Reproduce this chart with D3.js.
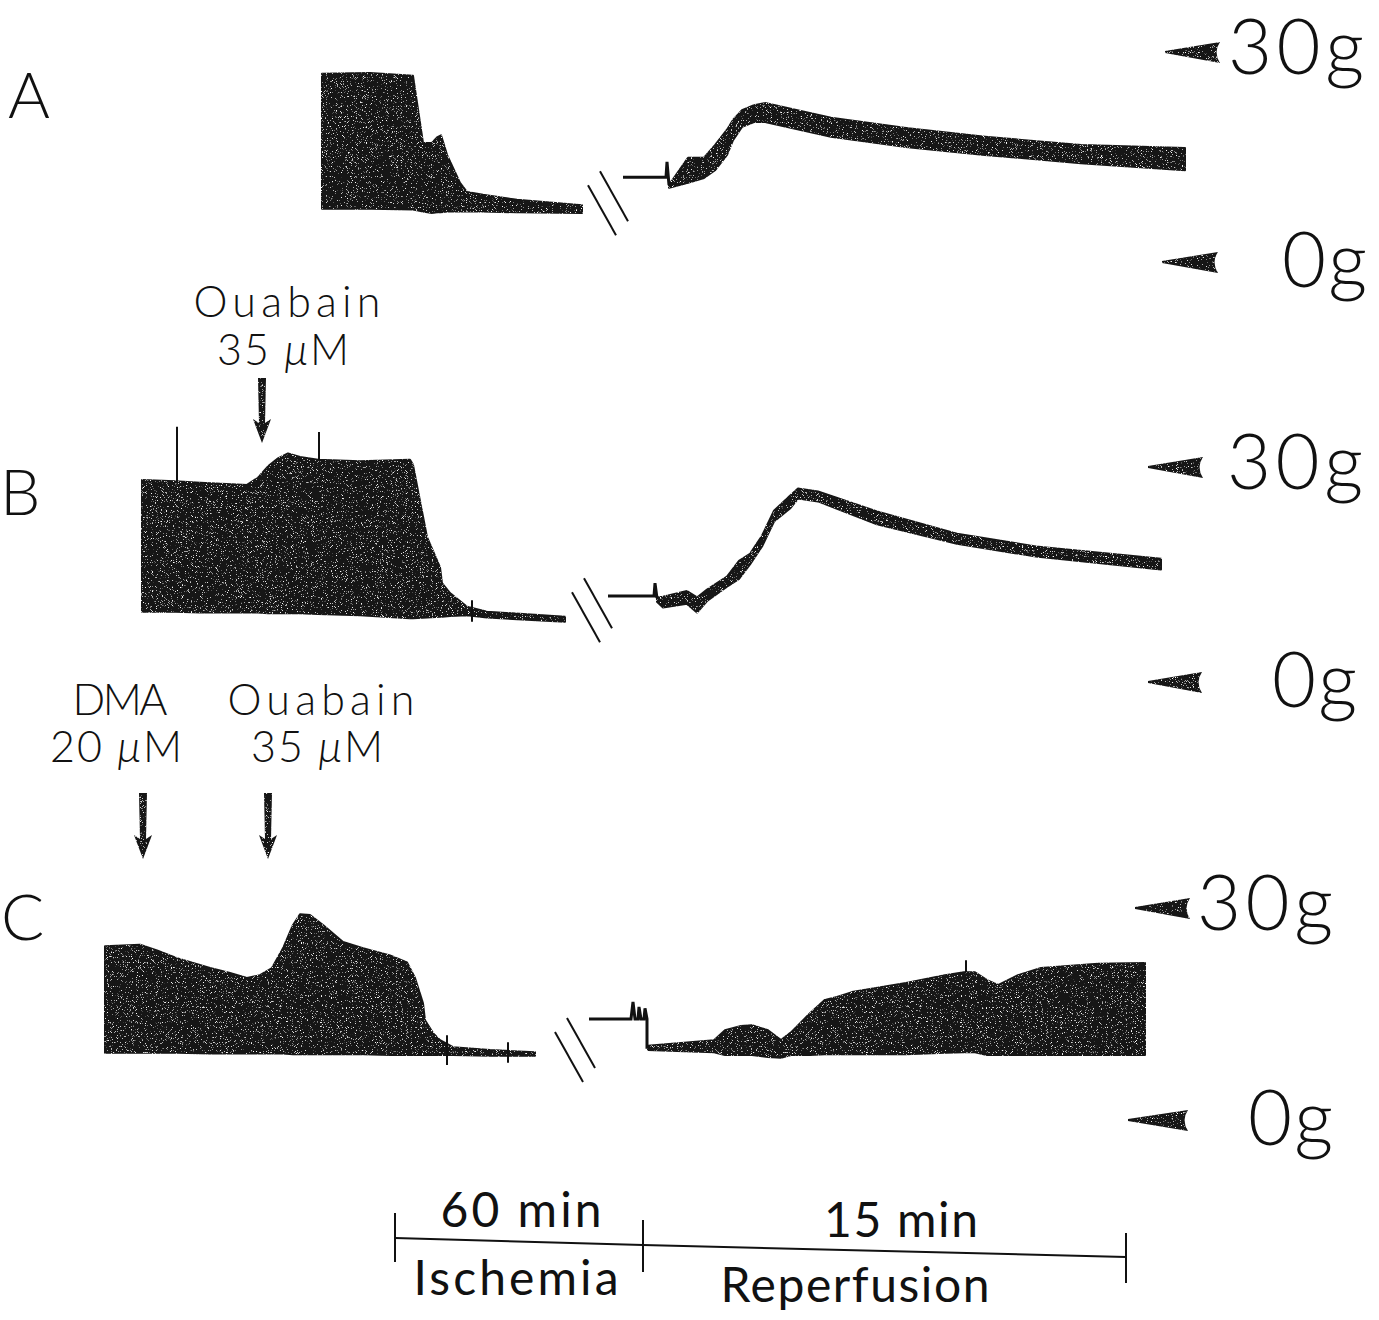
<!DOCTYPE html>
<html>
<head>
    <script src="https://cdnjs.cloudflare.com/ajax/libs/d3/7.8.5/d3.min.js"></script>
    <style>
        body { margin: 0; background: #fff; }
        .thin { font-family: Lato, "DejaVu Sans", sans-serif; font-weight: 300; fill: #111; }
        .bar text { font-family: Lato, "Liberation Sans", Arial, sans-serif; font-weight: 400; fill: #111; }
        .lead, .spike, .brk, .bar line, .bar path { fill: none; stroke: #111; }
    </style>
</head>
<body>
    <div id="chart"></div>
    <script>
        const width = 1379, height = 1320;

        // tension traces: [position, upper envelope g, lower envelope g]
        const aIschemia = [
            [322, 26.9, 7.6], [370, 27.0, 7.6], [413, 26.6, 7.5], [423, 17.0, 7.2],
            [432, 17.0, 7.0], [437, 17.8, 7.1], [441, 18.1, 7.1], [447, 15.3, 7.2], [460, 11.3, 7.2],
            [467, 10.0, 7.2], [483, 9.6, 7.2], [517, 8.9, 7.1], [582, 8.1, 7.0]
        ];
        const aLead = [[623, 12.1], [666, 12.1], [667, 14.3], [669, 11.0]];
        const aReperfusion = [
            [669, 11.0, 10.6], [688, 14.9, 11.3], [704, 14.9, 12.0], [715, 16.7, 13.1],
            [727, 18.9, 15.3], [733, 20.3, 17.4], [742, 21.7, 19.3], [754, 22.4, 20.0],
            [765, 22.7, 20.0], [831, 20.6, 17.9], [908, 19.1, 16.4], [985, 17.9, 15.3],
            [1081, 16.7, 14.1], [1185, 16.3, 13.1]
        ];
        const aSpikes = [];

        const bIschemia = [
            [142, 28.2, 9.8], [175, 28.0, 9.8], [200, 27.8, 9.7], [247, 27.5, 9.7],
            [258, 28.5, 9.7], [268, 30.1, 9.6], [278, 31.2, 9.6], [288, 31.9, 9.6],
            [300, 31.4, 9.6], [318, 31.0, 9.5], [360, 30.8, 9.3], [410, 31.0, 8.9],
            [413, 30.3, 8.9], [427, 20.2, 9.0], [440, 16.0, 9.1], [442, 13.8, 9.1],
            [450, 12.4, 9.2], [467, 10.5, 9.3], [487, 9.8, 9.0], [565, 9.1, 8.4]
        ];
        const bLead = [[608, 12.0], [654, 12.0], [655, 13.8], [657, 11.7]];
        const bReperfusion = [
            [657, 11.8, 11.2], [663, 11.9, 10.4], [687, 12.7, 10.9], [697, 11.8, 9.7],
            [707, 12.9, 11.3], [727, 14.7, 13.3], [739, 16.9, 14.4], [750, 17.9, 16.4],
            [762, 20.4, 18.9], [774, 23.9, 22.4], [790, 26.0, 24.2], [798, 27.0, 25.6],
            [818, 26.6, 25.2], [877, 23.8, 22.0], [957, 20.7, 19.3], [1036, 18.9, 17.5],
            [1161, 17.2, 15.7]
        ];
        const bSpikes = [[177, 28.0, 35.6], [319, 31.0, 34.9], [472, 8.4, 11.4]];

        const cIschemia = [
            [105, 24.6, 9.5], [140, 24.8, 9.5], [157, 24.0, 9.5], [177, 22.9, 9.5],
            [210, 21.5, 9.4], [230, 20.8, 9.4], [247, 20.1, 9.4], [260, 20.5, 9.4],
            [272, 21.5, 9.4], [283, 24.3, 9.4], [293, 27.6, 9.3], [300, 29.1, 9.3],
            [310, 29.0, 9.3], [323, 27.6, 9.3], [343, 25.2, 9.3], [363, 24.3, 9.3],
            [390, 23.3, 9.2], [407, 22.3, 9.2], [415, 20.1, 9.2], [423, 16.5, 9.2],
            [425, 14.1, 9.2], [433, 12.3, 9.2], [440, 11.3, 9.2], [453, 10.3, 9.2],
            [490, 9.9, 9.1], [535, 9.6, 9.1]
        ];
        const cLead = [
            [589, 14.3], [631, 14.3], [633, 16.7], [635, 14.3], [638, 14.3], [639, 16.0],
            [641, 14.3], [644, 14.3], [645, 15.8], [647, 14.3], [647, 10.3], [650, 10.3]
        ];
        const cReperfusion = [
            [648, 10.5, 9.9], [714, 11.3, 9.6], [725, 12.7, 9.2], [741, 13.3, 9.2],
            [752, 13.4, 9.2], [768, 12.7, 8.9], [781, 11.3, 8.8], [791, 12.4, 9.2],
            [810, 15.1, 9.2], [825, 17.0, 9.3], [837, 17.4, 9.3], [852, 18.1, 9.3],
            [906, 19.4, 9.3], [945, 20.5, 9.5], [964, 20.9, 9.6], [975, 20.9, 9.6],
            [987, 19.8, 9.2], [998, 19.1, 9.2], [1018, 20.5, 9.2], [1041, 21.5, 9.2],
            [1098, 22.1, 9.2], [1145, 22.2, 9.2]
        ];
        const cSpikes = [[447, 7.8, 12.0], [508, 8.1, 11.0], [966, 20.9, 22.6]];

        const calibration = [30, 0];
        const additions = [
            { panel: "B", name: "Ouabain", conc: "35", t: 262, textX: 287, nameLen: 187 },
            { panel: "C", name: "DMA", conc: "20", t: 143, textX: 120, nameLen: 95 },
            { panel: "C", name: "Ouabain", conc: "35", t: 268, textX: 321, nameLen: 187 }
        ];
        const timeBar = [
            { amount: "60 min", phase: "Ischemia" },
            { amount: "15 min", phase: "Reperfusion" }
        ];

        const panels = [
            { id: "A", zeroY: 262, fullY: 52, labelX: 8, labelY: 118,
              pre: aIschemia, lead: aLead, post: aReperfusion, spikes: aSpikes, brk: [608, 8.4],
              marks: { 30: [1165, 1220, 1228], 0: [1162, 1218, 1282] }, textY: [], arrowY: [] },
            { id: "B", zeroY: 682, fullY: 467, labelX: 0, labelY: 515,
              pre: bIschemia, lead: bLead, post: bReperfusion, spikes: bSpikes, brk: [592, 10.0],
              marks: { 30: [1148, 1203, 1227], 0: [1148, 1202, 1272] }, textY: [317, 365], arrowY: [378, 443] },
            { id: "C", zeroY: 1120, fullY: 908, labelX: 1, labelY: 940,
              pre: cIschemia, lead: cLead, post: cReperfusion, spikes: cSpikes, brk: [575, 9.9],
              marks: { 30: [1135, 1190, 1197], 0: [1128, 1188, 1248] }, textY: [715, 762], arrowY: [793, 859] }
        ];

        const svg = d3.select("#chart").append("svg")
            .attr("width", width).attr("height", height)
            .style("background", "#fff");

        // grainy chart-recorder ink
        const defs = svg.append("defs");
        const f = defs.append("filter").attr("id", "grain");
        f.append("feTurbulence").attr("type", "fractalNoise").attr("baseFrequency", 1.2)
            .attr("numOctaves", 2).attr("seed", 7).attr("result", "noise");
        f.append("feColorMatrix").attr("in", "noise").attr("type", "matrix")
            .attr("values", "0 0 0 0 1  0 0 0 0 1  0 0 0 0 1  6 0 0 0 -3.8").attr("result", "specks");
        f.append("feComposite").attr("in", "specks").attr("in2", "SourceGraphic")
            .attr("operator", "in").attr("result", "sp");
        const fm = f.append("feMerge");
        fm.append("feMergeNode").attr("in", "SourceGraphic");
        fm.append("feMergeNode").attr("in", "sp");

        const x = d3.scaleLinear().domain([0, width]).range([0, width]);
        const ink = "#161616";

        panels.forEach(p => {
            const y = d3.scaleLinear().domain([0, 30]).range([p.zeroY, p.fullY]);
            const g = svg.append("g").attr("class", "panel-" + p.id);

            const area = d3.area()
                .x(d => x(d[0]))
                .y0(d => y(d[2]))
                .y1(d => y(d[1]));

            [p.pre, p.post].forEach(seg => {
                g.append("path")
                    .attr("d", area(seg))
                    .attr("fill", ink)
                    .attr("stroke", ink)
                    .attr("stroke-width", 2)
                    .attr("stroke-linejoin", "round")
                    .attr("filter", "url(#grain)");
            });

            g.append("path")
                .attr("class", "lead")
                .attr("d", d3.line().x(d => x(d[0])).y(d => y(d[1]))(p.lead))
                .attr("stroke-width", 3);

            g.selectAll(".spike").data(p.spikes).enter().append("line")
                .attr("class", "spike")
                .attr("x1", d => x(d[0])).attr("x2", d => x(d[0]))
                .attr("y1", d => y(d[1])).attr("y2", d => y(d[2]))
                .attr("stroke-width", 2);

            // "//" break in the time axis
            const bx = x(p.brk[0]), by = y(p.brk[1]);
            [[-6, 7], [6, -7]].forEach(o => {
                g.append("line").attr("class", "brk")
                    .attr("x1", bx + o[0] - 14).attr("y1", by + o[1] - 25)
                    .attr("x2", bx + o[0] + 14).attr("y2", by + o[1] + 25)
                    .attr("stroke-width", 2);
            });

            // calibration pointers
            calibration.forEach(v => {
                const m = p.marks[v], cy = y(v);
                g.append("path")
                    .attr("d", `M${m[0]},${cy - 1} L${m[1]},${cy - 10} Q${m[1] - 7},${cy} ${m[1]},${cy + 11} L${m[0]},${cy + 1} Z`)
                    .attr("fill", ink)
                    .attr("filter", "url(#grain)");
                g.append("text").attr("class", "thin")
                    .attr("x", m[2]).attr("y", cy + (v === 30 ? 22 : 25))
                    .attr("font-size", 76)
                    .attr("textLength", v === 30 ? 136 : 85)
                    .attr("lengthAdjust", "spacing")
                    .text(v + "g");
            });

            g.append("text").attr("class", "thin")
                .attr("x", p.labelX).attr("y", p.labelY)
                .attr("font-size", 64)
                .text(p.id);
        });

        // drug additions
        additions.forEach(a => {
            const p = panels.find(d => d.id === a.panel);
            const g = svg.append("g");
            g.append("text").attr("class", "thin")
                .attr("x", a.textX).attr("y", p.textY[0])
                .attr("text-anchor", "middle")
                .attr("font-size", 43)
                .attr("textLength", a.nameLen).attr("lengthAdjust", "spacing")
                .text(a.name);
            const t = g.append("text").attr("class", "thin")
                .attr("x", a.textX - 3).attr("y", p.textY[1])
                .attr("text-anchor", "middle")
                .attr("font-size", 43)
                .attr("letter-spacing", 2);
            t.append("tspan").text(a.conc + " ");
            t.append("tspan").attr("font-style", "italic").text("\u03bc");
            t.append("tspan").text("M");

            const ax = x(a.t), top = p.arrowY[0], tip = p.arrowY[1];
            g.append("path")
                .attr("d", `M${ax - 4},${top} L${ax + 4},${top} L${ax + 3},${tip - 20} L${ax + 9},${tip - 24} L${ax},${tip} L${ax - 9},${tip - 24} L${ax - 3},${tip - 20} Z`)
                .attr("fill", ink)
                .attr("filter", "url(#grain)");
        });

        // time bar
        const bar = svg.append("g").attr("class", "bar");
        const barPts = [[395, 1238], [643, 1245], [1126, 1257]];
        const tickSpan = [[1213, 1262], [1220, 1272], [1233, 1283]];
        bar.append("path").attr("d", d3.line()(barPts)).attr("stroke-width", 2);
        barPts.forEach((pt, i) => {
            bar.append("line").attr("x1", pt[0]).attr("x2", pt[0])
                .attr("y1", tickSpan[i][0]).attr("y2", tickSpan[i][1]).attr("stroke-width", 2);
        });
        const barText = [
            { cx: 521, amountY: 1227, phaseX: 516, phaseY: 1295, amountLen: 161, phaseLen: 205 },
            { cx: 901, amountY: 1237, phaseX: 855, phaseY: 1302, amountLen: 154, phaseLen: 269 }
        ];
        timeBar.forEach((d, i) => {
            const b = barText[i];
            bar.append("text").attr("x", b.cx).attr("y", b.amountY)
                .attr("text-anchor", "middle").attr("font-size", 48)
                .attr("textLength", b.amountLen).attr("lengthAdjust", "spacing")
                .text(d.amount);
            bar.append("text").attr("x", b.phaseX).attr("y", b.phaseY)
                .attr("text-anchor", "middle").attr("font-size", 48)
                .attr("textLength", b.phaseLen).attr("lengthAdjust", "spacing")
                .text(d.phase);
        });
    </script>
</body>
</html>
